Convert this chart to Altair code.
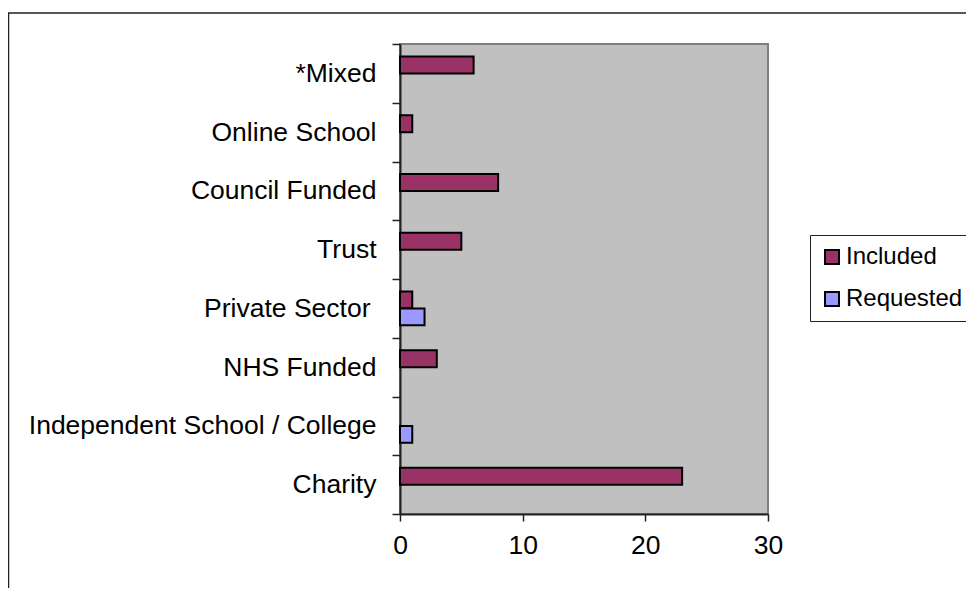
import altair as alt
import pandas as pd

categories = ["*Mixed", "Online School", "Council Funded", "Trust",
              "Private Sector", "NHS Funded", "Independent School / College", "Charity"]
included = [6, 1, 8, 5, 1, 3, None, 23]
requested = [None, None, None, None, 2, None, 1, None]
series = ["Included", "Requested"]
colors = ["#993366", "#9999FF"]
x_ticks = [0, 10, 20, 30]

rows = []
for c, a, b in zip(categories, included, requested):
    if a is not None:
        rows.append({"category": c, "series": "Included", "value": a})
    if b is not None:
        rows.append({"category": c, "series": "Requested", "value": b})
df = pd.DataFrame(rows)

FONT = "Liberation Sans"

frame = alt.Chart(pd.DataFrame({"k": [0]})).mark_rect(
    filled=False, stroke="#222222", strokeWidth=1.5
).encode(
    x=alt.value(-391.5), x2=alt.value(700), y=alt.value(-31), y2=alt.value(700)
)

bars = alt.Chart(df).mark_bar(stroke="black", strokeWidth=2, opacity=1).encode(
    y=alt.Y("category:N", sort=categories,
            scale=alt.Scale(paddingInner=0, paddingOuter=0),
            axis=alt.Axis(title=None, tickBand="extent", labelFontSize=26.5, labelFont=FONT,
                          labelColor="black", tickSize=8, tickColor="#222222", tickWidth=1.5,
                          labelPadding={"condition": {"test": "datum.value === 'Private Sector'",
                                                      "value": 22},
                                        "value": 16},
                          domainColor="#222222", domainWidth=2,
                          labelLimit=500)),
    yOffset=alt.YOffset("series:N", sort=series,
                        scale=alt.Scale(paddingInner=0, paddingOuter=0.728)),
    x=alt.X("value:Q", scale=alt.Scale(domain=[0, 30], nice=False),
            axis=alt.Axis(title=None, values=x_ticks, grid=False, tickSize=7,
                          tickColor="#222222", tickWidth=1.5, labelFontSize=26.5, labelFont=FONT,
                          labelColor="black", labelPadding=11, domainColor="#222222",
                          domainWidth=2, labelFlush=False)),
    color=alt.Color("series:N", sort=series,
                    scale=alt.Scale(domain=series, range=colors),
                    legend=alt.Legend(title=None, orient="none", legendX=410, legendY=191,
                                      symbolType="square", symbolSize=196,
                                      symbolStrokeColor="black", symbolStrokeWidth=2,
                                      symbolOpacity=1, labelFontSize=24, labelFont=FONT,
                                      labelColor="black", labelOffset=2,
                                      rowPadding=18, padding=10, fillColor="white",
                                      strokeColor="#222222")),
)

chart = alt.layer(frame, bars).properties(
    width=368, height=470,
    autosize=alt.AutoSizeParams(type="none"),
    padding={"left": 392, "top": 36, "right": 198, "bottom": 74},
).configure_view(fill="#c0c0c0", stroke="#808080", strokeWidth=2)

chart.save("out.html", embed_options={"renderer": "svg", "actions": False})
